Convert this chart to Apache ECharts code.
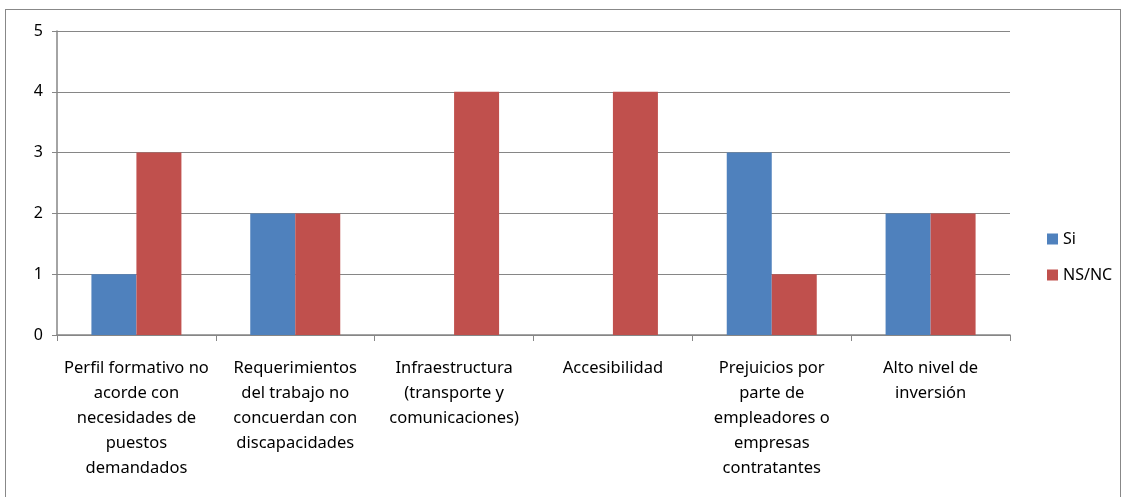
<!DOCTYPE html>
<html><head><meta charset="utf-8">
<script src="https://cdn.jsdelivr.net/npm/echarts@6/dist/echarts.min.js"></script>
<style>html,body{margin:0;padding:0;background:#fff}#c{width:1126px;height:497px}
#frame{position:absolute;left:5px;top:9px;width:1116px;height:495px;border:1px solid #888;box-sizing:border-box;pointer-events:none}</style>
</head><body><div id="c"></div><div id="frame"></div>
<script>
const categories = ["Perfil formativo no\nacorde con\nnecesidades de\npuestos\ndemandados","Requerimientos\ndel trabajo no\nconcuerdan con\ndiscapacidades","Infraestructura\n(transporte y\ncomunicaciones)","Accesibilidad","Prejuicios por\nparte de\nempleadores o\nempresas\ncontratantes","Alto nivel de\ninversión"];
const siValues = [1,2,0,0,3,2];
const nsncValues = [3,2,4,4,1,2];
const yTicks = [0,1,2,3,4,5];
const chart = echarts.init(document.getElementById('c'));
const font = 'Noto Sans';
chart.setOption({
  animation:false,
  grid:{left:57,right:116,top:31,bottom:162},
  legend:{orient:'vertical',left:1042,top:226,itemWidth:11,itemHeight:11,itemGap:20,
    textStyle:{fontFamily:font,fontSize:16,color:'#000'},icon:'rect',data:['Si','NS/NC']},
  xAxis:{type:'category',data:categories,
    axisLine:{lineStyle:{color:'#868686',width:1.5}},
    axisTick:{show:true,length:6,lineStyle:{color:'#868686'}},
    axisLabel:{interval:0,margin:21,fontFamily:font,fontSize:16.5,lineHeight:25,color:'#000'}},
  yAxis:{type:'value',min:0,max:5,interval:1,
    axisLine:{show:true,lineStyle:{color:'#868686',width:1.5}},
    axisTick:{show:true,length:5,lineStyle:{color:'#868686'}},
    splitLine:{lineStyle:{color:'#868686',width:1.2}},
    axisLabel:{margin:14,fontFamily:font,fontSize:16,color:'#000',
      formatter:(v)=>yTicks.includes(v)?String(v):''}},
  series:[
    {name:'Si',type:'bar',data:siValues,barWidth:45,barGap:'0%',itemStyle:{color:'#4F81BD'}},
    {name:'NS/NC',type:'bar',data:nsncValues,barWidth:45,barGap:'0%',itemStyle:{color:'#C0504D'}}
  ]
});
</script></body></html>
